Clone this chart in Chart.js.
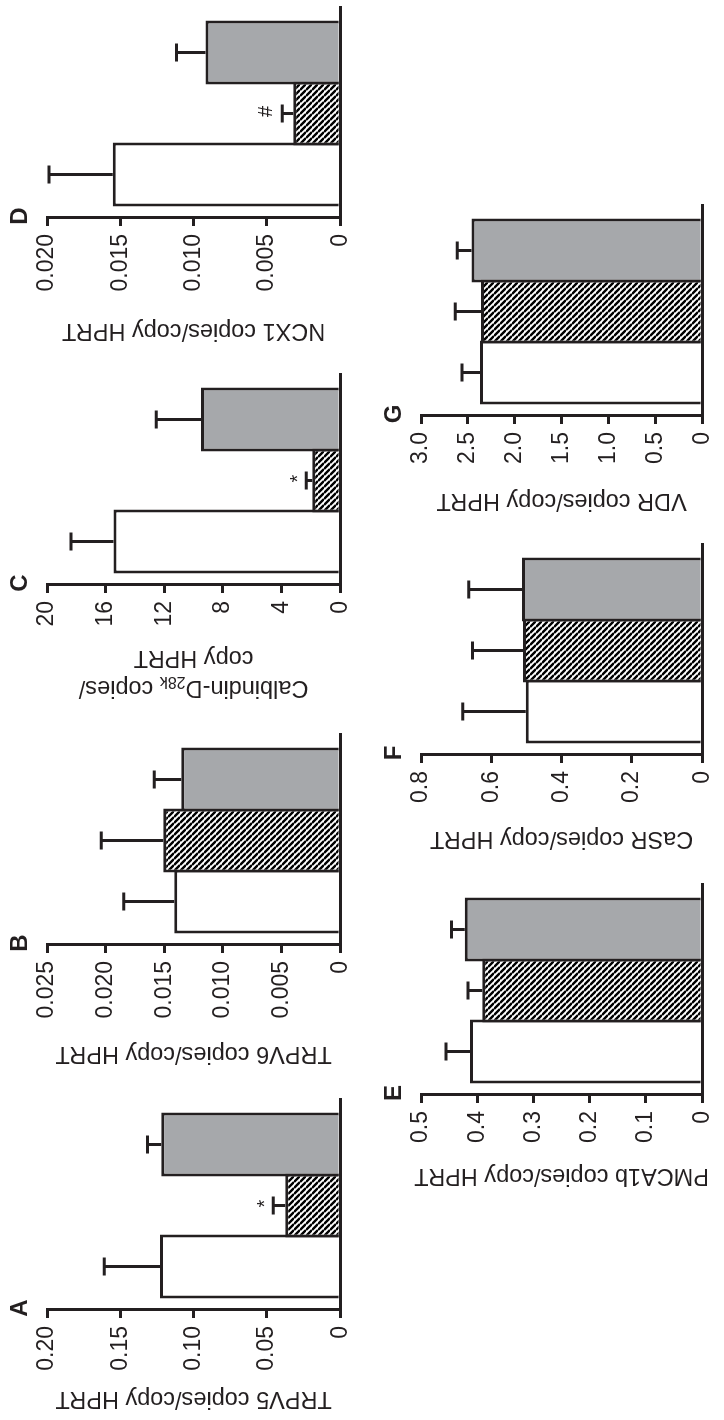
<!DOCTYPE html>
<html>
<head>
<meta charset="utf-8">
<script src="https://cdn.jsdelivr.net/npm/chart.js@4.4.0/dist/chart.umd.min.js"></script>
<style>
  html, body { margin: 0; padding: 0; background: #fff; overflow: hidden; }
  /* the figure is laid out upright, then turned a quarter turn to the left */
  #fig { position: absolute; left: 0; top: 0; width: 1420px; height: 724px;
         transform-origin: 0 0; transform: translateY(1420px) rotate(-90deg); }
  #fig canvas { position: absolute; }
</style>
</head>
<body>
<div id="fig"></div>
<script>
const groups = ['Group 1', 'Group 2', 'Group 3'];

const trpv5 = [0.123, 0.0374, 0.122];
const trpv5Err = [0.038, 0.0082, 0.0095];
const trpv5Ticks = ['0', '0.05', '0.10', '0.15', '0.20'];
const trpv5Marks = ['', '*', ''];

const trpv6 = [0.01415, 0.01508, 0.01356];
const trpv6Err = [0.0043, 0.0053, 0.0023];
const trpv6Ticks = ['0', '0.005', '0.010', '0.015', '0.020', '0.025'];

const calbindin = [15.46, 1.9, 9.49];
const calbindinErr = [2.91, 0.41, 3.05];
const calbindinTicks = ['0', '4', '8', '12', '16', '20'];
const calbindinMarks = ['', '*', ''];

const ncx1 = [0.01551, 0.0032, 0.00918];
const ncx1Err = [0.00435, 0.00075, 0.00198];
const ncx1Ticks = ['0', '0.005', '0.010', '0.015', '0.020'];
const ncx1Marks = ['', '#', ''];

const pmca1b = [0.413, 0.391, 0.422];
const pmca1bErr = [0.0425, 0.0255, 0.0238];
const pmca1bTicks = ['0', '0.1', '0.2', '0.3', '0.4', '0.5'];

const casr = [0.502, 0.51, 0.5125];
const casrErr = [0.179, 0.1438, 0.152];
const casrTicks = ['0', '0.2', '0.4', '0.6', '0.8'];

const vdr = [2.37, 2.359, 2.461];
const vdrErr = [0.193, 0.275, 0.153];
const vdrTicks = ['0', '0.5', '1.0', '1.5', '2.0', '2.5', '3.0'];

const none = ['', '', ''];

// Calbindin title has a subscript, drawn by hand
const calbindinTitle = [
  [{ t: 'Calbindin-D' }, { t: '28k', sub: true }, { t: ' copies/' }],
  [{ t: 'copy HPRT' }]
];

const panels = [
  { letter: 'A', left: 110, row: 0, title: 'TRPV5 copies/copy HPRT', gap: 88, mean: trpv5, err: trpv5Err, ticks: trpv5Ticks, marks: trpv5Marks },
  { letter: 'B', left: 475, row: 0, title: 'TRPV6 copies/copy HPRT', gap: 108, mean: trpv6, err: trpv6Err, ticks: trpv6Ticks, marks: none },
  { letter: 'C', left: 835, row: 0, lines: calbindinTitle, gap: 102, mean: calbindin, err: calbindinErr, ticks: calbindinTicks, marks: calbindinMarks },
  { letter: 'D', left: 1202, row: 0, title: 'NCX1 copies/copy HPRT', gap: 112, mean: ncx1, err: ncx1Err, ticks: ncx1Ticks, marks: ncx1Marks },
  { letter: 'E', left: 325, row: 1, title: 'PMCA1b copies/copy HPRT', gap: 80, mean: pmca1b, err: pmca1bErr, ticks: pmca1bTicks, marks: none },
  { letter: 'F', left: 665, row: 1, title: 'CaSR copies/copy HPRT', gap: 83, mean: casr, err: casrErr, ticks: casrTicks, marks: none },
  { letter: 'G', left: 1004, row: 1, title: 'VDR copies/copy HPRT', gap: 84, mean: vdr, err: vdrErr, ticks: vdrTicks, marks: none }
];

const ink = '#231f20';
const grey = '#a6a8ab';
const FONT = '"Liberation Sans", Arial, Helvetica, sans-serif';
const AXIS_W = 130, AXIS_LEN = 211, CANVAS_W = 351, ROW_H = 362, PLOT_H = 295;
const rowTop = [47, 59];
const markLift = { '*': 2, '#': 10 };

Chart.defaults.font.family = FONT;
Chart.defaults.color = ink;

function hatch() {
  const c = document.createElement('canvas');
  c.width = 6; c.height = 6;
  const g = c.getContext('2d');
  g.fillStyle = '#fff';
  g.fillRect(0, 0, 6, 6);
  g.strokeStyle = '#000';
  g.lineWidth = 2.4;
  g.beginPath();
  [-6, 0, 6].forEach(k => { g.moveTo(k, 0); g.lineTo(k + 6, 6); });
  g.stroke();
  return g.createPattern(c, 'repeat');
}
const stripes = hatch();

function decor(p) {
  return {
    id: 'decor',
    afterDatasetsDraw(chart) {
      const ctx = chart.ctx, y = chart.scales.y;
      const bars = chart.getDatasetMeta(0).data;
      ctx.save();
      ctx.strokeStyle = ink;
      ctx.fillStyle = ink;
      ctx.lineWidth = 3;
      bars.forEach((bar, i) => {
        const yTop = y.getPixelForValue(p.mean[i] + p.err[i]);
        ctx.beginPath();
        ctx.moveTo(bar.x, bar.y);
        ctx.lineTo(bar.x, yTop);
        ctx.moveTo(bar.x - 9, yTop);
        ctx.lineTo(bar.x + 9, yTop);
        ctx.stroke();
        const m = p.marks[i];
        if (m) {
          ctx.font = '20px ' + FONT;
          ctx.textAlign = 'center';
          ctx.textBaseline = 'alphabetic';
          ctx.fillText(m, bar.x + 2, yTop - markLift[m]);
        }
      });
      ctx.restore();
    },
    afterDraw(chart) {
      const ctx = chart.ctx, area = chart.chartArea;
      ctx.save();
      ctx.fillStyle = ink;
      ctx.font = 'bold 24px ' + FONT;
      ctx.textAlign = 'center';
      ctx.textBaseline = 'middle';
      ctx.fillText(p.letter, area.left + 2, area.top - 27);
      if (p.lines) {
        ctx.translate(area.left - p.gap, (area.top + area.bottom) / 2);
        ctx.rotate(-Math.PI / 2);
        ctx.textAlign = 'left';
        p.lines.forEach((parts, li) => {
          const fontOf = s => (s.sub ? '16px ' : '23.5px ') + FONT;
          let total = 0;
          parts.forEach(s => { ctx.font = fontOf(s); total += ctx.measureText(s.t).width; });
          let x = -total / 2;
          parts.forEach(s => {
            ctx.font = fontOf(s);
            ctx.fillText(s.t, x, li * 30 + (s.sub ? 6 : 0));
            x += ctx.measureText(s.t).width;
          });
        });
      }
      ctx.restore();
    }
  };
}

const fig = document.getElementById('fig');

panels.forEach(p => {
  const cv = document.createElement('canvas');
  cv.width = CANVAS_W;
  cv.height = ROW_H;
  cv.style.left = (p.left - AXIS_W) + 'px';
  cv.style.top = (p.row * ROW_H) + 'px';
  fig.appendChild(cv);
  const top = rowTop[p.row];
  const tickVals = p.ticks.map(t => parseFloat(t));

  new Chart(cv, {
    type: 'bar',
    data: {
      labels: groups,
      datasets: [{
        label: p.title || 'Calbindin-D28k copies/copy HPRT',
        data: p.mean.map((v, i) => ({ x: i, y: v })),
        backgroundColor: ['#ffffff', stripes, grey],
        borderColor: ink,
        borderWidth: { top: 3, left: 3, right: 3, bottom: 0 },
        // bars overlap by one border width so shared edges stay single
        barPercentage: 64 / 61,
        categoryPercentage: 1
      }]
    },
    options: {
      responsive: false,
      animation: false,
      devicePixelRatio: 1,
      layout: {
        padding: { left: 0, right: CANVAS_W - AXIS_W - AXIS_LEN, top: top, bottom: ROW_H - top - PLOT_H }
      },
      plugins: {
        legend: { display: false },
        tooltip: { enabled: false }
      },
      scales: {
        x: {
          type: 'linear',
          offset: false,
          min: -0.713,
          max: 2.746,
          grid: { display: false, offset: false },
          ticks: { display: false },
          border: { display: true, color: ink, width: 3 },
          afterFit: s => { s.height = 0; }
        },
        y: {
          min: 0,
          max: tickVals[tickVals.length - 1],
          afterBuildTicks: s => { s.ticks = tickVals.map(v => ({ value: v })); },
          ticks: {
            callback: (v, i) => p.ticks[i],
            color: ink,
            font: { size: 23 },
            padding: 8
          },
          grid: {
            display: true,
            drawOnChartArea: false,
            drawTicks: true,
            tickLength: 8,
            tickWidth: 3,
            lineWidth: 3,
            color: ink,
            tickColor: ink
          },
          border: { display: true, color: ink, width: 3 },
          title: {
            display: !p.lines,
            text: p.title,
            color: ink,
            font: { size: 23.5, lineHeight: 1.25 },
            padding: { top: AXIS_W - p.gap - 14.7, bottom: 0 }
          },
          afterFit: s => { s.width = AXIS_W; }
        }
      }
    },
    plugins: [decor(p)]
  });
});
</script>
</body>
</html>
